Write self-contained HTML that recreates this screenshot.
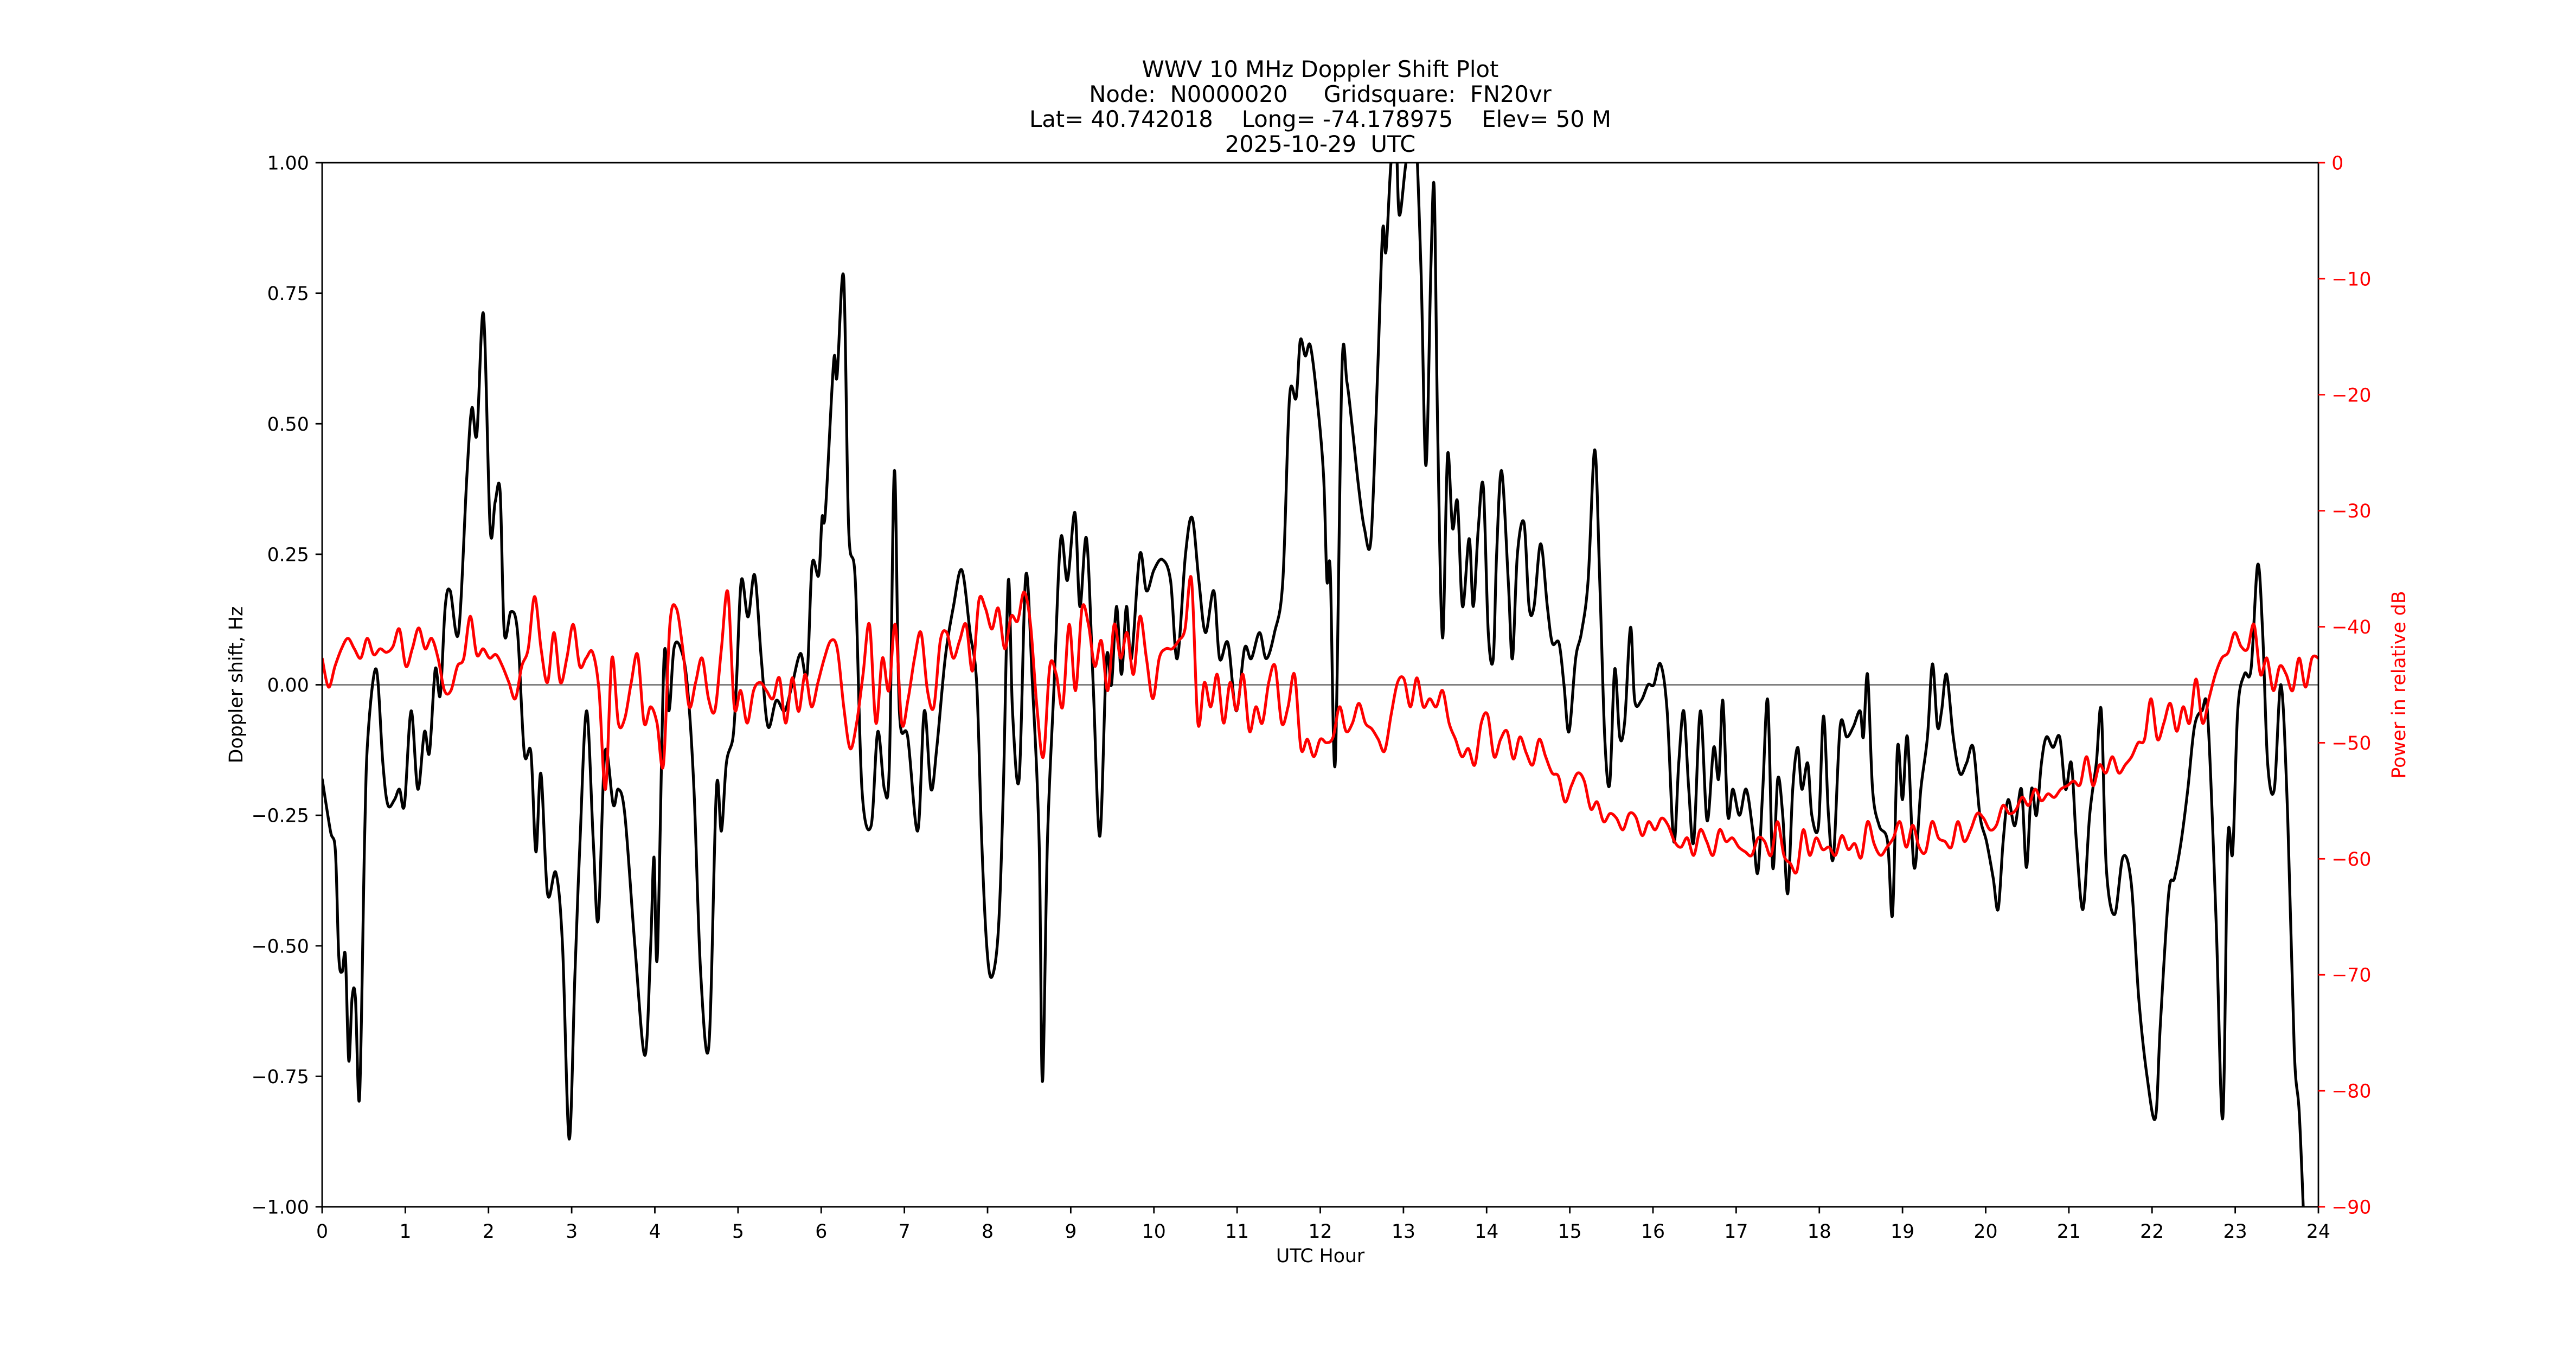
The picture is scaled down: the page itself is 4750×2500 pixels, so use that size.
<!DOCTYPE html>
<html><head><meta charset="utf-8"><style>
html,body{margin:0;padding:0;background:#fff;}
svg{display:block;font-family:"DejaVu Sans","Liberation Sans",sans-serif;}
</style></head><body>
<svg id="chart" width="4750" height="2500" viewBox="0 0 4750 2500" xmlns="http://www.w3.org/2000/svg">
<rect width="4750" height="2500" fill="#fff"/>
<g font-size="41.7" text-anchor="middle" fill="#000" style="white-space:pre">
<text x="2434.5" y="142" xml:space="preserve">WWV 10 MHz Doppler Shift Plot</text>
<text x="2434.5" y="188" xml:space="preserve">Node:  N0000020     Gridsquare:  FN20vr</text>
<text x="2434.5" y="234" xml:space="preserve">Lat= 40.742018    Long= -74.178975    Elev= 50 M</text>
<text x="2434.5" y="280" xml:space="preserve">2025-10-29  UTC</text>
</g>
<defs><clipPath id="plotclip"><rect x="594" y="300" width="3681" height="1925"/></clipPath></defs>
<g id="plot"></g>
<g id="axes"></g>
</svg>
<script>
const xTicks=[0,1,2,3,4,5,6,7,8,9,10,11,12,13,14,15,16,17,18,19,20,21,22,23,24];
const yTicksLeft=[-1.0,-0.75,-0.5,-0.25,0,0.25,0.5,0.75,1.0];
const yTickLabelsLeft=["\u22121.00","\u22120.75","\u22120.50","\u22120.25","0.00","0.25","0.50","0.75","1.00"];
const yTicksRight=[0,-10,-20,-30,-40,-50,-60,-70,-80,-90];
const yTickLabelsRight=["0","\u221210","\u221220","\u221230","\u221240","\u221250","\u221260","\u221270","\u221280","\u221290"];

const dopplerHours=[0.00,0.10,0.16,0.20,0.24,0.28,0.32,0.36,0.40,0.45,0.51,0.55,0.65,0.73,0.79,0.87,0.93,0.99,1.07,1.15,1.23,1.29,1.36,1.42,1.48,1.54,1.64,1.74,1.80,1.86,1.94,2.02,2.08,2.14,2.19,2.27,2.35,2.43,2.51,2.57,2.63,2.71,2.81,2.89,2.97,3.04,3.10,3.18,3.26,3.32,3.40,3.50,3.56,3.64,3.76,3.88,3.95,3.99,4.03,4.11,4.17,4.23,4.31,4.39,4.47,4.55,4.65,4.74,4.80,4.86,4.94,4.98,5.04,5.12,5.20,5.28,5.36,5.46,5.56,5.65,5.75,5.83,5.89,5.97,6.01,6.05,6.15,6.19,6.27,6.33,6.41,6.49,6.60,6.68,6.76,6.82,6.88,6.94,7.04,7.16,7.24,7.32,7.39,7.49,7.59,7.69,7.79,7.87,7.93,7.99,8.05,8.13,8.19,8.25,8.30,8.38,8.46,8.54,8.62,8.66,8.72,8.80,8.88,8.96,9.05,9.11,9.19,9.27,9.35,9.43,9.49,9.55,9.61,9.67,9.73,9.83,9.91,10.00,10.10,10.20,10.28,10.38,10.46,10.54,10.62,10.72,10.79,10.89,10.99,11.09,11.17,11.27,11.35,11.45,11.55,11.63,11.71,11.76,11.82,11.88,11.96,12.04,12.08,12.12,12.18,12.26,12.32,12.38,12.46,12.53,12.61,12.69,12.75,12.79,12.85,12.91,12.95,13.03,13.13,13.21,13.27,13.33,13.37,13.41,13.47,13.53,13.59,13.65,13.71,13.79,13.84,13.90,13.96,14.02,14.08,14.12,14.18,14.26,14.31,14.37,14.45,14.51,14.57,14.65,14.73,14.79,14.87,14.93,14.99,15.07,15.14,15.22,15.30,15.36,15.42,15.48,15.54,15.60,15.66,15.73,15.78,15.86,15.94,16.01,16.09,16.17,16.25,16.31,16.37,16.43,16.49,16.57,16.65,16.73,16.79,16.84,16.90,16.96,17.04,17.12,17.20,17.26,17.32,17.38,17.44,17.50,17.56,17.62,17.68,17.74,17.79,17.86,17.91,17.99,18.05,18.11,18.17,18.25,18.33,18.41,18.49,18.53,18.58,18.64,18.72,18.82,18.88,18.94,19.00,19.06,19.14,19.22,19.30,19.36,19.42,19.47,19.53,19.61,19.69,19.77,19.85,19.93,20.01,20.09,20.15,20.21,20.27,20.35,20.43,20.49,20.55,20.61,20.67,20.73,20.81,20.89,20.96,21.03,21.09,21.17,21.25,21.33,21.39,21.45,21.55,21.65,21.75,21.84,21.94,22.04,22.10,22.20,22.27,22.35,22.43,22.51,22.60,22.67,22.77,22.85,22.91,22.97,23.03,23.11,23.19,23.27,23.33,23.39,23.47,23.55,23.63,23.71,23.77,23.83];
const dopplerHz=[-0.18,-0.28,-0.32,-0.52,-0.55,-0.52,-0.72,-0.6,-0.6,-0.79,-0.3,-0.1,0.03,-0.15,-0.23,-0.22,-0.2,-0.23,-0.05,-0.2,-0.09,-0.13,0.03,-0.02,0.15,0.18,0.1,0.4,0.53,0.48,0.71,0.3,0.35,0.37,0.1,0.14,0.1,-0.13,-0.13,-0.32,-0.17,-0.4,-0.36,-0.5,-0.87,-0.55,-0.3,-0.05,-0.3,-0.45,-0.13,-0.23,-0.2,-0.25,-0.5,-0.71,-0.5,-0.33,-0.52,0.05,-0.05,0.07,0.07,0.0,-0.2,-0.55,-0.69,-0.2,-0.28,-0.15,-0.1,0.0,0.2,0.13,0.21,0.05,-0.08,-0.03,-0.05,0.0,0.06,0.02,0.23,0.21,0.32,0.33,0.62,0.59,0.78,0.3,0.2,-0.2,-0.27,-0.09,-0.2,-0.15,0.41,-0.05,-0.1,-0.28,-0.05,-0.2,-0.12,0.05,0.15,0.22,0.1,0.0,-0.3,-0.5,-0.56,-0.47,-0.2,0.2,-0.05,-0.18,0.21,0.0,-0.3,-0.76,-0.3,0.0,0.28,0.2,0.33,0.15,0.28,0.0,-0.29,0.05,0.0,0.15,0.02,0.15,0.05,0.25,0.18,0.22,0.24,0.2,0.05,0.25,0.32,0.2,0.1,0.18,0.05,0.08,-0.05,0.07,0.05,0.1,0.05,0.1,0.2,0.55,0.55,0.66,0.63,0.65,0.55,0.4,0.2,0.22,-0.15,0.6,0.58,0.5,0.38,0.3,0.28,0.6,0.87,0.83,1.0,1.05,0.9,1.0,1.1,0.8,0.42,0.8,0.95,0.5,0.09,0.44,0.3,0.35,0.15,0.28,0.15,0.3,0.38,0.1,0.05,0.25,0.41,0.2,0.05,0.25,0.31,0.15,0.15,0.27,0.15,0.08,0.08,0.0,-0.09,0.05,0.1,0.2,0.45,0.2,-0.1,-0.19,0.03,-0.1,-0.07,0.11,-0.03,-0.03,0.0,0.0,0.04,-0.05,-0.3,-0.15,-0.05,-0.2,-0.3,-0.05,-0.26,-0.12,-0.18,-0.03,-0.25,-0.2,-0.25,-0.2,-0.28,-0.36,-0.2,-0.03,-0.35,-0.18,-0.25,-0.4,-0.2,-0.12,-0.2,-0.15,-0.25,-0.27,-0.06,-0.25,-0.33,-0.08,-0.1,-0.08,-0.05,-0.1,0.02,-0.2,-0.27,-0.3,-0.44,-0.12,-0.22,-0.1,-0.35,-0.2,-0.1,0.04,-0.08,-0.05,0.02,-0.1,-0.17,-0.15,-0.12,-0.25,-0.3,-0.37,-0.43,-0.3,-0.22,-0.27,-0.2,-0.35,-0.2,-0.25,-0.15,-0.1,-0.12,-0.1,-0.2,-0.15,-0.3,-0.43,-0.25,-0.15,-0.05,-0.35,-0.44,-0.33,-0.38,-0.6,-0.75,-0.83,-0.65,-0.4,-0.37,-0.3,-0.2,-0.08,-0.05,-0.06,-0.45,-0.83,-0.3,-0.32,-0.05,0.02,0.03,0.23,0.1,-0.15,-0.2,0.0,-0.25,-0.7,-0.82,-1.05];

const powerDb=[-42.7,-45.2,-43.4,-41.9,-41.0,-41.9,-42.7,-41.0,-42.4,-41.9,-42.2,-41.7,-40.2,-43.4,-41.9,-40.1,-41.9,-41.0,-42.7,-45.5,-45.5,-43.4,-42.7,-39.1,-42.4,-41.9,-42.7,-42.4,-43.4,-44.8,-46.2,-43.4,-41.9,-37.4,-41.9,-44.8,-40.5,-44.8,-42.7,-39.8,-43.4,-42.7,-42.2,-45.5,-54.0,-42.7,-48.3,-47.9,-44.8,-42.4,-48.3,-46.9,-48.3,-51.9,-39.8,-38.4,-41.9,-46.9,-44.8,-42.7,-46.2,-47.2,-41.9,-37.0,-46.9,-45.5,-48.3,-45.5,-44.8,-45.5,-46.2,-44.4,-48.3,-44.4,-47.3,-44.1,-46.9,-44.8,-42.7,-41.2,-41.9,-46.9,-50.5,-48.3,-44.1,-39.8,-48.3,-42.7,-45.5,-39.8,-48.3,-46.2,-42.7,-40.5,-45.5,-46.9,-41.2,-40.5,-42.7,-41.2,-39.8,-43.8,-37.7,-38.4,-40.2,-38.4,-41.9,-39.1,-39.5,-37.0,-39.8,-46.9,-51.2,-43.4,-44.1,-46.9,-39.8,-45.5,-38.4,-39.8,-43.4,-41.2,-45.5,-39.8,-42.7,-40.5,-44.1,-39.1,-42.7,-46.2,-42.7,-41.9,-41.9,-41.2,-40.2,-35.9,-48.3,-44.8,-46.9,-44.1,-48.3,-44.8,-47.2,-44.1,-49.0,-46.9,-48.3,-44.8,-43.4,-48.3,-46.9,-44.1,-50.5,-49.7,-51.2,-49.7,-50.0,-49.5,-46.9,-49.0,-48.3,-46.6,-48.3,-48.8,-49.7,-50.7,-47.6,-44.8,-44.5,-46.9,-44.4,-46.9,-46.2,-46.9,-45.5,-48.3,-49.7,-51.2,-50.5,-51.9,-48.3,-47.6,-51.2,-49.7,-49.0,-51.4,-49.5,-50.9,-51.9,-49.7,-51.2,-52.6,-52.9,-55.1,-53.7,-52.6,-53.3,-55.7,-55.1,-56.8,-56.1,-56.5,-57.5,-56.1,-56.4,-58.0,-56.8,-57.5,-56.5,-57.1,-58.5,-59.0,-58.2,-59.7,-57.5,-58.5,-59.7,-57.5,-58.5,-58.2,-59.0,-59.4,-59.7,-58.2,-58.5,-59.7,-56.8,-59.7,-60.4,-61.1,-57.5,-59.7,-58.2,-59.2,-59.0,-59.7,-58.0,-59.2,-58.7,-59.9,-56.8,-58.7,-59.7,-59.0,-58.2,-56.8,-59.0,-57.1,-59.0,-59.4,-56.8,-58.2,-58.5,-59.0,-56.8,-58.5,-57.5,-56.1,-56.5,-57.5,-57.1,-55.4,-56.1,-55.8,-54.7,-55.4,-54.0,-55.0,-54.4,-54.7,-54.0,-53.7,-53.3,-53.6,-51.2,-53.7,-51.9,-52.6,-51.2,-52.6,-51.9,-51.2,-50.0,-49.7,-46.2,-49.7,-48.3,-46.6,-49.0,-46.9,-48.3,-44.5,-48.3,-46.2,-44.1,-42.7,-42.2,-40.5,-41.7,-41.9,-39.8,-44.1,-42.7,-45.5,-43.4,-44.1,-45.5,-42.7,-45.2,-42.7,-42.7];
// power samples are evenly spaced across the day
const powerHours=powerDb.map((_,i)=>24*i/(powerDb.length-1));

const L=594,R=4275,T=300,B=2225;
const xS=h=>L+(h-0)/(24-0)*(R-L);
const yL=v=>B-(v-(-1))/(2)*(B-T);
const yR=v=>B-(v-(-90))/(90)*(B-T);
const NS="http://www.w3.org/2000/svg";
function mk(tag,attrs,parent){const e=document.createElementNS(NS,tag);for(const k in attrs)e.setAttribute(k,attrs[k]);parent.appendChild(e);return e;}
function smoothPath(pts){
  let d="M"+pts[0][0].toFixed(1)+","+pts[0][1].toFixed(1);
  for(let i=0;i<pts.length-1;i++){
    const p0=pts[Math.max(0,i-1)],p1=pts[i],p2=pts[i+1],p3=pts[Math.min(pts.length-1,i+2)];
    const c1x=p1[0]+(p2[0]-p0[0])/6,c1y=p1[1]+(p2[1]-p0[1])/6;
    const c2x=p2[0]-(p3[0]-p1[0])/6,c2y=p2[1]-(p3[1]-p1[1])/6;
    d+="C"+c1x.toFixed(1)+","+c1y.toFixed(1)+" "+c2x.toFixed(1)+","+c2y.toFixed(1)+" "+p2[0].toFixed(1)+","+p2[1].toFixed(1);
  }
  return d;
}
const plot=document.getElementById('plot');
const axes=document.getElementById('axes');
const clipG=mk('g',{'clip-path':'url(#plotclip)'},plot);
const zl=mk('line',{x1:L,x2:R,y1:yL(0),y2:yL(0),stroke:'#808080','stroke-width':3},clipG);


const dp=mk('path',{d:smoothPath(dopplerHours.map((h,i)=>[xS(h),yL(dopplerHz[i])])),fill:'none',stroke:'#000','stroke-width':5.2,'stroke-linejoin':'round'},clipG);


const pp=mk('path',{d:smoothPath(powerHours.map((h,i)=>[xS(h),yR(powerDb[i])])),fill:'none',stroke:'#ff0000','stroke-width':5.2,'stroke-linejoin':'round'},clipG);



const frame=mk('rect',{x:L,y:T,width:R-L,height:B-T,fill:'none',stroke:'#000','stroke-width':2.8},axes);


xTicks.forEach(t=>{
  const x=xS(t);
  mk('line',{x1:x,x2:x,y1:B,y2:B+12.2,stroke:'#000','stroke-width':2.8},axes);
  const tx=mk('text',{x:x,y:B+12.2+12+33,'font-size':34.7,'text-anchor':'middle',fill:'#000'},axes);
  tx.textContent=String(t);
  
  
});
yTicksLeft.forEach((t,i)=>{
  const y=yL(t);
  mk('line',{x1:L-12.2,x2:L,y1:y,y2:y,stroke:'#000','stroke-width':2.8},axes);
  const tx=mk('text',{x:L-12.2-12,y:y+12.5,'font-size':34.7,'text-anchor':'end',fill:'#000'},axes);
  tx.textContent=yTickLabelsLeft[i];
  
  
});
yTicksRight.forEach((t,i)=>{
  const y=yR(t);
  mk('line',{x1:R,x2:R+12.2,y1:y,y2:y,stroke:'#ff0000','stroke-width':2.8},axes);
  const tx=mk('text',{x:R+12.2+12,y:y+12.5,'font-size':34.7,'text-anchor':'start',fill:'#ff0000'},axes);
  tx.textContent=yTickLabelsRight[i];
  
  
});
const xt=mk('text',{x:(L+R)/2,y:2327,'font-size':34.7,'text-anchor':'middle',fill:'#000'},axes);
xt.textContent='UTC Hour';


const ylt=mk('text',{x:0,y:0,'font-size':34.7,'text-anchor':'middle',fill:'#000',transform:'translate(447,'+((T+B)/2)+') rotate(-90)'},axes);
ylt.textContent='Doppler shift, Hz';


const yrt=mk('text',{x:0,y:0,'font-size':34.7,'text-anchor':'middle',fill:'#ff0000',transform:'translate(4435,'+((T+B)/2)+') rotate(-90)'},axes);
yrt.textContent='Power in relative dB';


</script>
</body></html>
